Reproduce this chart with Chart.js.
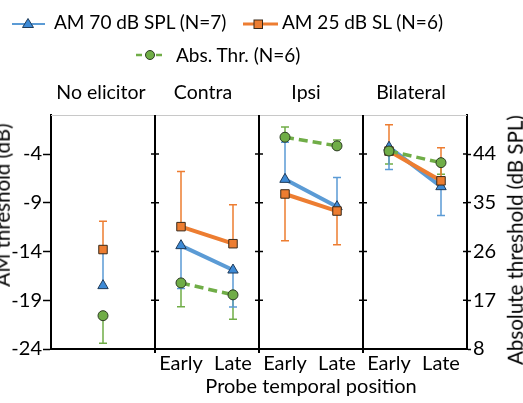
<!DOCTYPE html>
<html lang="en">
<head>
<meta charset="UTF-8">
<title>AM threshold by elicitor</title>
<script src="https://cdn.jsdelivr.net/npm/chart.js@4/dist/chart.umd.min.js"></script>
<style>
  * { box-sizing: border-box; margin: 0; padding: 0; }
  body { width: 523px; height: 403px; overflow: hidden; position: relative; background: #fff; font-family: Lato, 'Open Sans', sans-serif; color: #000; }
  canvas { position: absolute; left: 0; top: 0; }
  .txt { position: absolute; white-space: nowrap; line-height: 1; }
  .lg { font-size: 19px; }
  .pt { font-size: 19.5px; transform: translateX(-50%); }
  .yt { font-size: 20.5px; transform: translate(-50%, -50%) rotate(-90deg); }
  svg { position: absolute; overflow: visible; }
</style>
</head>
<body>
<canvas id="c" width="523" height="403"></canvas>

<svg style="left:0;top:0" width="523" height="70">
  <line x1="12" y1="24" x2="45" y2="24" stroke="#5b9bd5" stroke-width="2"/>
  <polygon points="28,18.5 33.5,27.5 22.5,27.5" fill="#3d8ad6" stroke="#1f3b5a" stroke-width="1"/>
  <line x1="243" y1="24" x2="278" y2="24" stroke="#ed7d31" stroke-width="3"/>
  <rect x="254" y="20" width="8.5" height="8.5" fill="#ed7d31" stroke="#3a2a1a" stroke-width="1"/>
  <line x1="136" y1="55" x2="165" y2="55" stroke="#70ad47" stroke-width="2.5" stroke-dasharray="6,4"/>
  <circle cx="150" cy="55" r="4.5" fill="#70ad47" stroke="#2b3a22" stroke-width="1"/>
</svg>
<div class="txt lg" style="left:54px;top:12px">AM 70 dB SPL (N=7)</div>
<div class="txt lg" style="left:282px;top:12px">AM 25 dB SL (N=6)</div>
<div class="txt lg" style="left:176px;top:45px">Abs. Thr. (N=6)</div>

<div class="txt pt" style="left:101px;top:82px">No elicitor</div>
<div class="txt pt" style="left:203px;top:82px">Contra</div>
<div class="txt pt" style="left:306px;top:82px">Ipsi</div>
<div class="txt pt" style="left:411px;top:82px">Bilateral</div>

<div class="txt yt" style="left:2px;top:205px">AM threshold (dB)</div>
<div class="txt yt" style="left:515px;top:240px">Absolute threshold (dB SPL)</div>
<div class="txt pt" style="left:311px;top:375px;font-size:20px">Probe temporal position</div>

<script>
// x positions: panel 0..2 = No elicitor, 2..4 Contra, 4..6 Ipsi, 6..8 Bilateral
const xPos = [1, 2.5, 3.5, 4.5, 5.5, 6.5, 7.5]
const panelGroups = [[0], [1, 2], [3, 4], [5, 6]]
const panelEdges = [2, 4, 6, 8]
const xTickPos = [2.5, 3.5, 4.5, 5.5, 6.5, 7.5]
const xTickLabels = ['Early', 'Late', 'Early', 'Late', 'Early', 'Late']
const leftTicks = [-24, -19, -14, -9, -4]
const rightTicks = [8, 17, 26, 35, 44]

// AM 70 dB SPL (left axis), value and error-bar end
const amSpl = [-17.5, -13.4, -15.9, -6.6, -9.4, -3.3, -7.35]
const amSplErr = [-14.0, -17.8, -19.7, -2.8, -6.4, -5.6, -10.3]
// AM 25 dB SL (left axis)
const amSl = [-13.8, -11.45, -13.2, -8.1, -9.85, -3.7, -6.75]
const amSlErr = [-10.9, -5.8, -9.2, -12.9, -13.3, -1.0, -3.35]
// absolute threshold (right axis, dB SPL)
const absThr = [14.15, 20.2, 18.0, 47.1, 45.5, 44.55, 42.4]
const absThrErr = [9.05, 15.8, 13.5, 49.0, 46.6, 42.15, 40.25]

function series(vals, errs) {
  const out = []
  panelGroups.forEach((g, gi) => {
    g.forEach(i => out.push({ x: xPos[i], y: vals[i], e: errs[i] }))
    if (gi < panelGroups.length - 1) out.push({ x: panelEdges[gi], y: null })
  })
  return out
}

const font = { family: 'Lato', size: 20 }

const errorBars = {
  id: 'errorBars',
  beforeDatasetsDraw(chart) {
    const ctx = chart.ctx
    chart.data.datasets.forEach((ds, i) => {
      const meta = chart.getDatasetMeta(i)
      const sc = chart.scales[ds.yAxisID]
      ctx.save()
      ctx.strokeStyle = ds.borderColor
      ctx.lineWidth = 1.5
      ds.data.forEach((p, j) => {
        if (p.y == null) return
        const el = meta.data[j]
        const ye = sc.getPixelForValue(p.e)
        ctx.beginPath()
        ctx.moveTo(el.x, el.y); ctx.lineTo(el.x, ye)
        ctx.moveTo(el.x - 4, ye); ctx.lineTo(el.x + 4, ye)
        ctx.stroke()
      })
      ctx.restore()
    })
  }
}

const frame = {
  id: 'frame',
  beforeDatasetsDraw(chart) {
    const { ctx, chartArea: a, scales } = chart
    ctx.save()
    ctx.strokeStyle = '#c8c8c8'
    ctx.lineWidth = 1
    ctx.beginPath(); ctx.moveTo(a.left, a.top + 0.5); ctx.lineTo(a.right, a.top + 0.5); ctx.stroke()
    ctx.strokeStyle = '#000'
    ctx.lineWidth = 2
    panelEdges.slice(0, 3).forEach(v => {
      const x = scales.x.getPixelForValue(v)
      ctx.beginPath(); ctx.moveTo(x, a.top); ctx.lineTo(x, a.bottom + 4); ctx.stroke()
    })
    ctx.lineWidth = 1.5
    leftTicks.forEach(v => {
      const y = scales.y.getPixelForValue(v)
      panelEdges.forEach(e => {
        const x = scales.x.getPixelForValue(e)
        ctx.beginPath(); ctx.moveTo(x - 4, y); ctx.lineTo(x + (e === 8 ? 0 : 4), y); ctx.stroke()
      })
    })
    ctx.restore()
  }
}

new Chart(document.getElementById('c'), {
  type: 'line',
  data: {
    datasets: [
      {
        label: 'Abs. Thr. (N=6)', data: series(absThr, absThrErr), yAxisID: 'y2',
        borderColor: '#70ad47', backgroundColor: '#70ad47', borderWidth: 3.5, borderDash: [9, 5],
        pointStyle: 'circle', pointRadius: 5, pointBorderColor: '#2b3a22', pointBorderWidth: 1,
        pointBackgroundColor: '#70ad47', spanGaps: false
      },
      {
        label: 'AM 25 dB SL (N=6)', data: series(amSl, amSlErr), yAxisID: 'y',
        borderColor: '#ed7d31', backgroundColor: '#ed7d31', borderWidth: 4,
        pointStyle: 'rect', pointRadius: 6, pointBorderColor: '#3a2a1a', pointBorderWidth: 1,
        pointBackgroundColor: '#ed7d31', spanGaps: false
      },
      {
        label: 'AM 70 dB SPL (N=7)', data: series(amSpl, amSplErr), yAxisID: 'y',
        borderColor: '#5b9bd5', backgroundColor: '#5b9bd5', borderWidth: 4,
        pointStyle: 'triangle', pointRadius: 6, pointBorderColor: '#1f3b5a', pointBorderWidth: 1,
        pointBackgroundColor: '#3d8ad6', spanGaps: false
      }
    ]
  },
  options: {
    responsive: false,
    animation: false,
    layout: { padding: { top: 115, left: 0, right: 0, bottom: 0 } },
    plugins: { legend: { display: false }, tooltip: { enabled: false } },
    scales: {
      x: {
        type: 'linear', min: 0, max: 8,
        afterBuildTicks: s => { s.ticks = xTickPos.map(v => ({ value: v })) },
        afterFit: s => { s.height = 54 },
        ticks: { callback: (v, i) => xTickLabels[i], font, color: '#000', padding: 3, autoSkip: false, maxRotation: 0 },
        grid: { display: false, drawTicks: false },
        border: { color: '#000', width: 2 }
      },
      y: {
        position: 'left', min: -24, max: 0,
        afterBuildTicks: s => { s.ticks = leftTicks.map(v => ({ value: v })) },
        afterFit: s => { s.width = 51 },
        ticks: { font, color: '#000', padding: 1 },
        grid: { drawOnChartArea: false, tickLength: 8, tickColor: '#000', tickWidth: 1.5 },
        border: { color: '#000', width: 2 }
      },
      y2: {
        position: 'right', min: 8, max: 51.2,
        afterBuildTicks: s => { s.ticks = rightTicks.map(v => ({ value: v })) },
        afterFit: s => { s.width = 56 },
        ticks: { font, color: '#000', padding: 2 },
        grid: { drawOnChartArea: false, tickLength: 4, tickColor: '#000', tickWidth: 1.5 },
        border: { color: '#000', width: 2 }
      }
    }
  },
  plugins: [errorBars, frame]
})
</script>
</body>
</html>
